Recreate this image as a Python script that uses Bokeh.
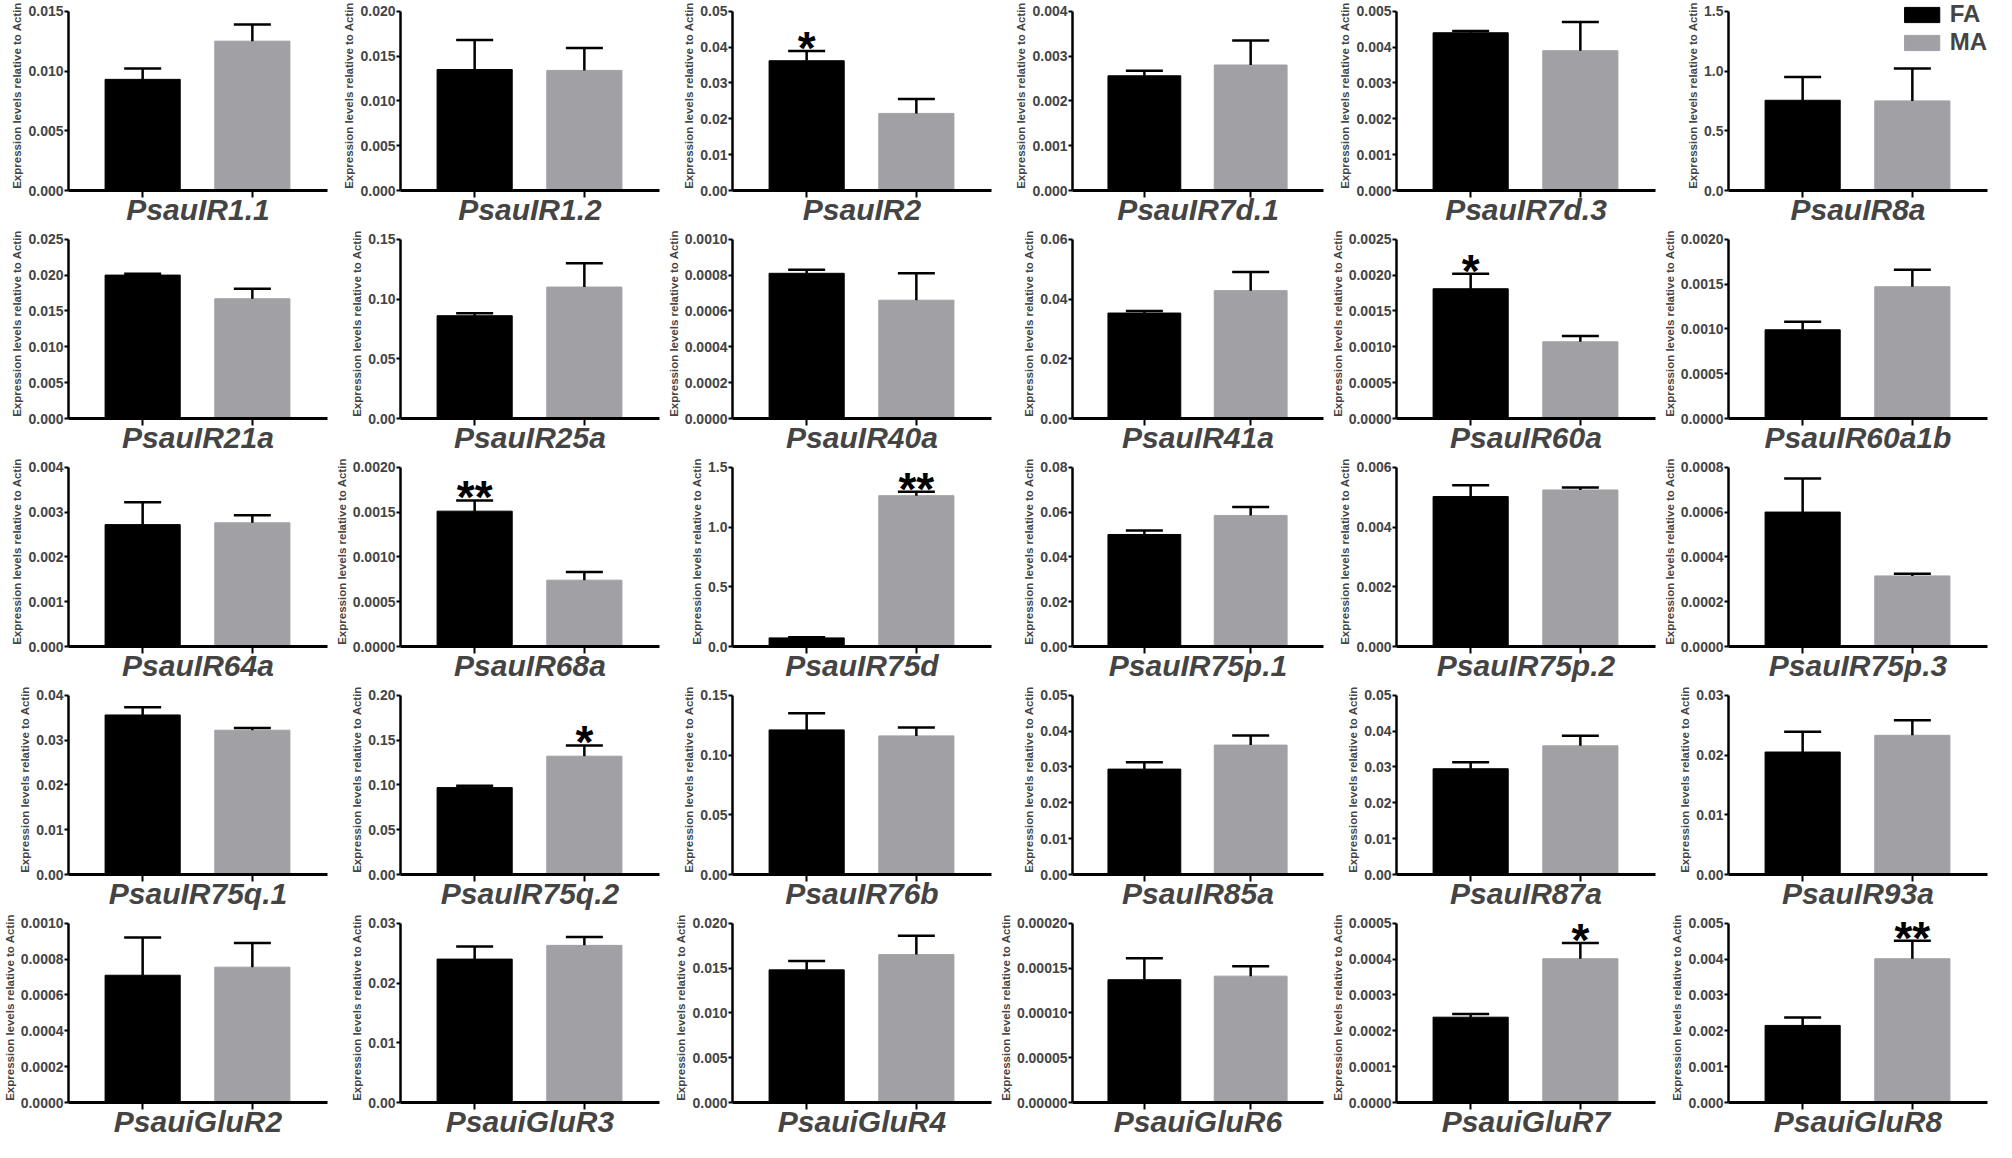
from bokeh.plotting import figure
from bokeh.layouts import gridplot
from bokeh.models import (ColumnDataSource, Whisker, TeeHead, FixedTicker,
                          PrintfTickFormatter, Range1d, Legend, LegendItem)
from bokeh.embed import file_html
from bokeh.resources import INLINE
from bokeh.core.properties import value

# ---------------- data ----------------
genes = ["PsauIR1.1", "PsauIR1.2", "PsauIR2", "PsauIR7d.1", "PsauIR7d.3", "PsauIR8a",
         "PsauIR21a", "PsauIR25a", "PsauIR40a", "PsauIR41a", "PsauIR60a", "PsauIR60a1b",
         "PsauIR64a", "PsauIR68a", "PsauIR75d", "PsauIR75p.1", "PsauIR75p.2", "PsauIR75p.3",
         "PsauIR75q.1", "PsauIR75q.2", "PsauIR76b", "PsauIR85a", "PsauIR87a", "PsauIR93a",
         "PsauiGluR2", "PsauiGluR3", "PsauiGluR4", "PsauiGluR6", "PsauiGluR7", "PsauiGluR8"]

groups = ["FA", "MA"]

fa_mean = [0.0093, 0.0135, 0.0362, 0.00256, 0.0044, 0.755,
           0.0200, 0.086, 0.00081, 0.0353, 0.00181, 0.00099,
           0.00272, 0.00151, 0.072, 0.0500, 0.00502, 0.00060,
           0.0356, 0.097, 0.121, 0.0294, 0.0295, 0.0205,
           0.00071, 0.0240, 0.0148, 0.000137, 0.000238, 0.00215]
fa_err = [0.0009, 0.0033, 0.0027, 0.00011, 0.00005, 0.195,
          0.0002, 0.002, 0.00002, 0.0007, 0.00021, 0.00009,
          0.00050, 0.00012, 0.006, 0.0018, 0.00038, 0.00015,
          0.0017, 0.002, 0.014, 0.0019, 0.0018, 0.0034,
          0.00021, 0.0021, 0.0010, 0.000024, 0.000009, 0.00022]
ma_mean = [0.0125, 0.0134, 0.0215, 0.0028, 0.0039, 0.75,
           0.0167, 0.110, 0.00066, 0.0428, 0.00107, 0.00147,
           0.00276, 0.00074, 1.262, 0.0585, 0.00524, 0.000315,
           0.0322, 0.132, 0.116, 0.0361, 0.0359, 0.0233,
           0.000755, 0.0263, 0.0165, 0.000141, 0.000401, 0.00401]
ma_err = [0.0014, 0.0025, 0.0040, 0.00055, 0.0008, 0.27,
          0.0014, 0.020, 0.00015, 0.0062, 0.00008, 0.00019,
          0.00017, 0.00009, 0.032, 0.0038, 0.00008, 0.00001,
          0.0005, 0.012, 0.007, 0.0027, 0.0028, 0.0025,
          0.000135, 0.0014, 0.0021, 0.000011, 0.000044, 0.0005]
fa_sig = ["", "", "*", "", "", "",
          "", "", "", "", "*", "",
          "", "**", "", "", "", "",
          "", "", "", "", "", "",
          "", "", "", "", "", ""]
ma_sig = ["", "", "", "", "", "",
          "", "", "", "", "", "",
          "", "", "**", "", "", "",
          "", "*", "", "", "", "",
          "", "", "", "", "*", "**"]
y_max = [0.015, 0.020, 0.05, 0.004, 0.005, 1.5,
         0.025, 0.15, 0.0010, 0.06, 0.0025, 0.0020,
         0.004, 0.0020, 1.5, 0.08, 0.006, 0.0008,
         0.04, 0.20, 0.15, 0.05, 0.05, 0.03,
         0.0010, 0.03, 0.020, 0.00020, 0.0005, 0.005]
y_step = [0.005, 0.005, 0.01, 0.001, 0.001, 0.5,
          0.005, 0.05, 0.0002, 0.02, 0.0005, 0.0005,
          0.001, 0.0005, 0.5, 0.02, 0.002, 0.0002,
          0.01, 0.05, 0.05, 0.01, 0.01, 0.01,
          0.0002, 0.01, 0.005, 0.00005, 0.0001, 0.001]
y_decimals = [3, 3, 2, 3, 3, 1,
              3, 2, 4, 2, 4, 4,
              3, 4, 1, 2, 3, 4,
              2, 2, 2, 2, 2, 2,
              4, 2, 3, 5, 4, 3]

y_title = "Expression levels relative to Actin"

# ---------------- style ----------------
bar_colors = ["#000000", "#a1a1a5"]
FONT = "Liberation Sans"
X_START, X_END = 0.324, 2.685
TOP_PAD = 1.06          # headroom above the last tick (room for the stars)

figs = []
for i, gene in enumerate(genes):
    p = figure(width=332, height=228, output_backend="svg", toolbar_location=None,
               x_range=Range1d(X_START, X_END),
               y_range=Range1d(0, y_max[i] * TOP_PAD),
               min_border_left=40, min_border_right=5, min_border_top=0,
               min_border_bottom=37)
    xs = [1, 2]
    means = [fa_mean[i], ma_mean[i]]
    uppers = [fa_mean[i] + fa_err[i], ma_mean[i] + ma_err[i]]
    sigs = [fa_sig[i], ma_sig[i]]
    src = ColumnDataSource(dict(x=xs, top=means, upper=uppers, color=bar_colors))
    bars = p.vbar(x="x", top="top", width=0.685, fill_color="color",
                  line_color="color", source=src)
    wh = Whisker(base="x", lower="top", upper="upper", source=src,
                 dimension="height", line_color="black", line_width=2.5,
                 upper_head=TeeHead(size=37, line_color="black", line_width=2.5),
                 lower_head=None, level="overlay")
    p.add_layout(wh)

    keep = [k for k in range(2) if sigs[k]]
    if keep:
        ssrc = ColumnDataSource(dict(x=[xs[k] for k in keep],
                                     y=[uppers[k] for k in keep],
                                     t=[sigs[k] for k in keep]))
        p.text(x="x", y="y", text="t", source=ssrc, text_align="center",
               text_baseline="alphabetic", y_offset=-3, text_color="black",
               text_font=value(FONT), text_font_style="bold", text_font_size="46px")

    n = int(round(y_max[i] / y_step[i]))
    p.yaxis.ticker = FixedTicker(ticks=[k * y_step[i] for k in range(n + 1)])
    p.yaxis.bounds = (0, y_max[i])
    p.yaxis.formatter = PrintfTickFormatter(format="%%.%df" % y_decimals[i])
    p.yaxis.axis_label = y_title
    p.yaxis.axis_label_text_font = FONT
    p.yaxis.axis_label_text_font_style = "bold"
    p.yaxis.axis_label_text_font_size = "11.5px"
    p.yaxis.axis_label_standoff = 2
    p.yaxis.major_label_text_font = FONT
    p.yaxis.major_label_text_font_style = "bold"
    p.yaxis.major_label_text_font_size = "14px"
    p.yaxis.major_label_standoff = 1
    p.yaxis.major_tick_out = 4
    p.yaxis.major_tick_in = 0
    p.yaxis.minor_tick_out = 0
    p.yaxis.minor_tick_in = 0
    p.yaxis.axis_line_width = 2.5
    p.yaxis.major_tick_line_width = 2

    p.xaxis.ticker = FixedTicker(ticks=xs)
    p.xaxis.major_label_text_font_size = "1px"
    p.xaxis.major_label_text_color = None
    p.xaxis.major_label_standoff = 0
    p.xaxis.major_tick_out = 7
    p.xaxis.major_tick_in = 0
    p.xaxis.axis_line_width = 3
    p.xaxis.major_tick_line_width = 2
    p.xaxis.axis_label = gene
    p.xaxis.axis_label_text_font = FONT
    p.xaxis.axis_label_text_font_style = "bold italic"
    p.xaxis.axis_label_text_font_size = "30px"
    p.xaxis.axis_label_text_line_height = 1.0
    p.xaxis.axis_label_standoff = -5

    p.xgrid.visible = False
    p.ygrid.visible = False
    p.outline_line_color = None
    p.background_fill_color = "white"
    p.border_fill_color = "white"

    if i == 5:
        leg = Legend(items=[LegendItem(label=groups[0], renderers=[bars], index=0),
                            LegendItem(label=groups[1], renderers=[bars], index=1)],
                     location="top_right", orientation="vertical",
                     glyph_width=44, glyph_height=19, label_height=19,
                     label_standoff=6, spacing=0, padding=0, margin=0,
                     label_text_font=FONT, label_text_font_style="bold",
                     label_text_font_size="24px", label_text_baseline="middle",
                     background_fill_alpha=0, border_line_color=None)
        p.add_layout(leg)
    figs.append(p)

grid = gridplot(figs, ncols=6, toolbar_location=None)
open("out.html", "w").write(file_html(grid, INLINE))
